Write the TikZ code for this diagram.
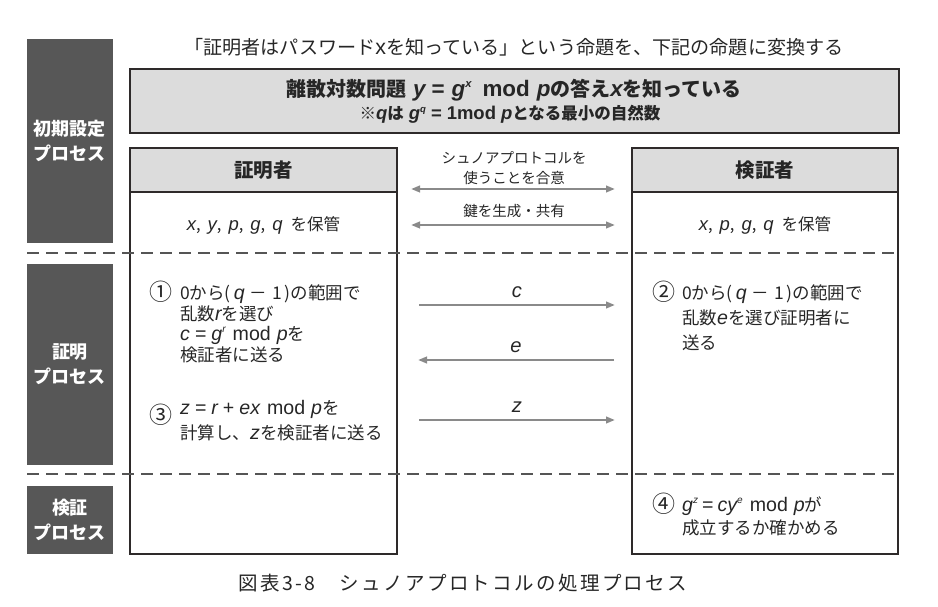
\documentclass[tikz,border=0pt]{standalone}
\usepackage{fontspec}
\setmainfont{Noto Sans CJK JP}
\newfontfamily\latf[Scale=1.12]{Liberation Sans}
\usetikzlibrary{arrows.meta}
\definecolor{labgray}{HTML}{575757}
\definecolor{headgray}{HTML}{DCDCDC}
\definecolor{bordc}{HTML}{2E2A2A}
\definecolor{arrgray}{HTML}{8A8A8A}
\definecolor{dashc}{HTML}{555555}
\definecolor{txtc}{HTML}{262626}
\newcommand\iv[1]{{\latf\itshape #1}}
\newcommand\ivb[1]{{\latf\bfseries\itshape #1}}
\newcommand\up[1]{{\latf #1}}
\newcommand\supx[2][9]{\raisebox{0.8ex}{\fontsize{#1}{#1}\selectfont\latf\itshape #2}}
\newcommand\fs[2]{\fontsize{#1}{#2}\selectfont}
\newcommand\hsp[1]{\hspace{#1pt}}
\begin{document}
\begin{tikzpicture}[x=1pt,y=-1pt,
  labbox/.style={fill=labgray, text=white, font=\fs{18}{25}\bfseries, align=center, inner sep=0pt},
  boxline/.style={draw=bordc, line width=2.6pt},
  arr/.style={draw=arrgray, line width=2.4pt, -{Triangle[length=9pt,width=6.5pt]}},
  darr/.style={draw=arrgray, line width=2.4pt, {Triangle[length=9pt,width=6.5pt]}-{Triangle[length=9pt,width=6.5pt]}},
  dashline/.style={draw=dashc, line width=1.3pt, dash pattern=on 12pt off 7pt},
  txt/.style={text=txtc, inner sep=0pt},
  bline/.style={txt, anchor=base west, font=\fs{17.5}{20}},
  num/.style={txt, anchor=base west, font=\fs{23}{23}},
]
\useasboundingbox (0,0) rectangle (938,607);

% left labels
\node[labbox, minimum width=86pt, minimum height=204pt] (lab1) at (70,141) {初期設定\\プロセス};
\node[labbox, minimum width=86pt, minimum height=201pt] (lab2) at (70,364.5) {証明\\プロセス};
\node[labbox, minimum width=86pt, minimum height=68pt] (lab3) at (70,520) {検証\\プロセス};

% title
\node[txt, font=\fs{19.1}{20}] (title) at (514,47) {「証明者はパスワード\up{x}を知っている」という命題を、下記の命題に変換する};

% proposition box
\node[boxline, fill=headgray, minimum width=769pt, minimum height=64pt, inner sep=0pt] (prop) at (514.5,101) {};
\node[txt, font=\fs{20}{20}\bfseries] (prop1) at (514,90) {離散対数問題\hsp{7}\ivb{y}\hsp{6}{\latf\bfseries =}\hsp{7}\ivb{g}\supx[10]{x}\hsp{11}{\latf\bfseries mod}\hsp{7}\ivb{p}の答え\ivb{x}を知っている};
\node[txt, font=\fs{16.5}{16}\bfseries] (prop2) at (510,114) {※\ivb{q}は\hsp{5}\iv{g}\supx[8.5]{q}\hsp{5}{\latf\bfseries =}\hsp{5}{\latf\bfseries 1mod}\hsp{5}\ivb{p}となる最小の自然数};

% prover box
\node[boxline, minimum width=267pt, minimum height=406pt, inner sep=0pt] (prover) at (263.5,351) {};
\node[boxline, fill=headgray, minimum width=267pt, minimum height=44pt, inner sep=0pt, font=\fs{19.5}{20}\bfseries, text=txtc] (proverhead) at (263.5,170) {証明者};
\node[txt, font=\fs{16.5}{20}] (proverhold) at (263.5,225) {\iv{x},\hsp{7}\iv{y},\hsp{7}\iv{p},\hsp{7}\iv{g},\hsp{7}\iv{q}\hsp{8}を保管};

% verifier box
\node[boxline, minimum width=266pt, minimum height=406pt, inner sep=0pt] (verifier) at (765,351) {};
\node[boxline, fill=headgray, minimum width=266pt, minimum height=44pt, inner sep=0pt, font=\fs{19.5}{20}\bfseries, text=txtc] (verifierhead) at (765,170) {検証者};
\node[txt, font=\fs{16.5}{20}] (verifierhold) at (765,225) {\iv{x},\hsp{7}\iv{p},\hsp{7}\iv{g},\hsp{7}\iv{q}\hsp{8}を保管};

% dashed separators
\draw[dashline] (27,253) -- (898,253);
\draw[dashline] (27,474) -- (898,474);

% setup arrows
\node[txt, font=\fs{14.5}{20}, align=center] (agree) at (514,168) {シュノアプロトコルを\\使うことを合意};
\coordinate (k1l) at (411,189);
\coordinate (k1r) at (615,189);
\draw[darr] (k1l) -- (k1r);
\node[txt, font=\fs{14.5}{20}] (keygen) at (514,211) {鍵を生成・共有};
\coordinate (k2l) at (411,225);
\coordinate (k2r) at (615,225);
\draw[darr] (k2l) -- (k2r);

% proof arrows
\coordinate (cl) at (419,305);
\coordinate (cr) at (615,305);
\draw[arr] (cl) -- node[txt, above=6pt, font=\fs{18}{20}] (clab) {\iv{c}} (cr);
\coordinate (er) at (614,360);
\coordinate (el) at (418,360);
\draw[arr] (er) -- node[txt, above=6pt, font=\fs{18}{20}] (elab) {\iv{e}} (el);
\coordinate (zl) at (419,420);
\coordinate (zr) at (615,420);
\draw[arr] (zl) -- node[txt, above=6pt, font=\fs{18}{20}] (zlab) {\iv{z}} (zr);

% prover steps
\node[num] (s1n) at (149,300) {①};
\node[bline] (s1a) at (180,299.5) {0から(\hsp{3}\iv{q}\hsp{5}－\hsp{5}1\hsp{3})の範囲で};
\node[bline] (s1b) at (180,320) {乱数\iv{r}を選び};
\node[bline] (s1c) at (180,340.5) {\iv{c}\hsp{5}{\latf =}\hsp{5}\iv{g}\supx{r}\hsp{7}{\latf mod}\hsp{6}\iv{p}を};
\node[bline] (s1d) at (180,361) {検証者に送る};
\node[num] (s3n) at (149,423) {③};
\node[bline] (s3a) at (180,414.5) {\iv{z}\hsp{5}{\latf =}\hsp{5}\iv{r}\hsp{5}{\latf +}\hsp{5}\iv{ex}\hsp{7}{\latf mod}\hsp{6}\iv{p}を};
\node[bline] (s3b) at (180,439.5) {計算し、\iv{z}を検証者に送る};

% verifier steps
\node[num] (s2n) at (652,300) {②};
\node[bline] (s2a) at (682,299.5) {0から(\hsp{3}\iv{q}\hsp{5}－\hsp{5}1\hsp{3})の範囲で};
\node[bline] (s2b) at (682,324.5) {乱数\iv{e}を選び証明者に};
\node[bline] (s2c) at (682,349.5) {送る};
\node[num] (s4n) at (652,512) {④};
\node[bline] (s4a) at (682,511.5) {\iv{g}\supx{z}\hsp{4}{\latf =}\hsp{4}\iv{cy}\supx{e}\hsp{7}{\latf mod}\hsp{6}\iv{p}が};
\node[bline] (s4b) at (682,534.5) {成立するか確かめる};

% caption
\node[txt, font=\fs{19.5}{20}\addfontfeature{LetterSpace=12}] (caption) at (463,583) {図表3-8　シュノアプロトコルの処理プロセス};
\end{tikzpicture}
\end{document}
